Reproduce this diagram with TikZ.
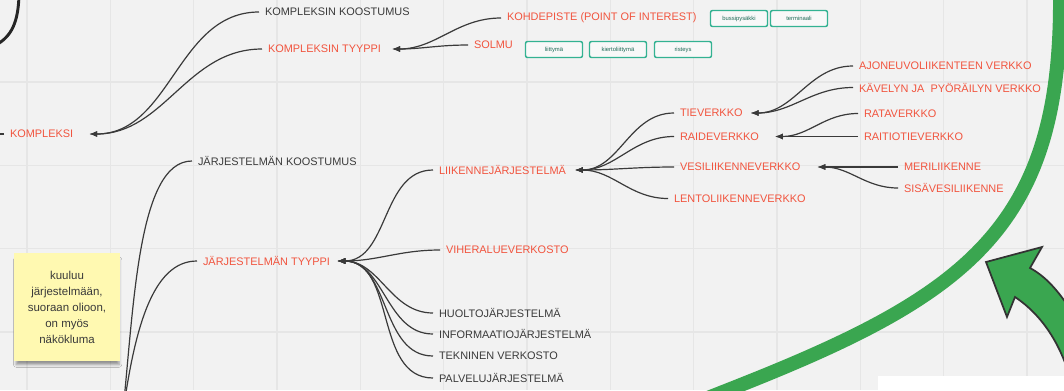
\documentclass[tikz,border=0pt]{standalone}
\usepackage{fontspec}
\setmainfont{Liberation Sans}
\usetikzlibrary{arrows.meta, shadows.blur}

\definecolor{boardGray}{RGB}{242,242,242}
\definecolor{gridGray}{RGB}{230,230,230}
\definecolor{miroRed}{RGB}{241,84,62}
\definecolor{miroDark}{RGB}{58,58,58}
\definecolor{miroTeal}{RGB}{52,178,146}
\definecolor{miroGreen}{RGB}{58,166,80}
\definecolor{stickyYellow}{RGB}{255,249,177}

\begin{document}
\begin{tikzpicture}[> = {Latex[length = 6pt, width = 4.5pt]}, x = 0.75pt, y = -0.75pt,
	label/.style = {anchor = west, inner xsep = 4.5pt, inner ysep = 1pt, outer sep = 0pt,
		font = \fontsize{8.2}{10}\selectfont},
	redlabel/.style = {label, text = miroRed},
	darklabel/.style = {label, text = miroDark},
	link/.style = {->, draw = miroDark, line width = 0.9pt},
	plain/.style = {draw = miroDark, line width = 0.9pt},
	tagbox/.style = {draw = miroTeal, line width = 1.1pt, rounded corners = 1.5pt,
		fill = white!45!boardGray, minimum width = 42.75pt, minimum height = 12pt, inner sep = 0pt,
		font = \fontsize{4.4}{5}\selectfont, text = miroTeal!60!black},
	sticky/.style = {fill = stickyYellow, minimum width = 79.5pt, minimum height = 81pt,
		align = center, text = miroDark,
		font = \fontsize{8.6}{12}\selectfont,
		blur shadow = {shadow xshift = 0.5pt, shadow yshift = -4pt, shadow opacity = 40, shadow scale = 0.97}}]

	% Board and grid
	
	\useasboundingbox (0, 0) rectangle (1064, 390);
	\clip (0, 0) rectangle (1064, 390);
	\fill [boardGray] (0, 0) rectangle (1064, 390);
	
	\foreach \i in {0, 1, ..., 12}
		\draw [gridGray, line width = 0.8pt] ({27 + 83.33 * \i}, 0) -- ({27 + 83.33 * \i}, 390);
	\foreach \j in {0, 1, ..., 3}
		\draw [gridGray, line width = 0.8pt] (0, {82 + 83.33 * \j}) -- (1064, {82 + 83.33 * \j});
	
	% Sketch stroke in the corner
	
	\draw [black!85, line width = 2.2pt, line cap = round] (19, -4) .. controls (18, 22) and (12, 36) .. (-4, 45);
	
	% Kompleksi
	
	\node [redlabel] (kompleksi) at (4, 134) {KOMPLEKSI};
	\node [darklabel] (kkoost) at (259, 12) {KOMPLEKSIN KOOSTUMUS};
	\node [redlabel] (ktyyppi) at (262, 49) {KOMPLEKSIN TYYPPI};
	\node [redlabel] (kohde) at (501, 18) {KOHDEPISTE (POINT OF INTEREST)};
	\node [redlabel] (solmu) at (468, 45) {SOLMU};
	\coordinate (kleft) at (-10, 134);
	
	% Tags
	
	\node [tagbox] (bussi) at (739, 18.5) {bussipysäkki};
	\node [tagbox] (terminaali) at (799, 18.5) {terminaali};
	\node [tagbox] (liittyma) at (554, 49.5) {liittymä};
	\node [tagbox] (kierto) at (618, 49.5) {kiertoliittymä};
	\node [tagbox] (risteys) at (683, 49.5) {risteys};
	
	% Järjestelmä
	
	\node [darklabel] (jkoost) at (192, 161) {JÄRJESTELMÄN KOOSTUMUS};
	\node [redlabel] (jtyyppi) at (197, 261) {JÄRJESTELMÄN TYYPPI};
	\coordinate (jbot) at (122, 420);
	
	\node [redlabel] (liikenne) at (433, 170) {LIIKENNEJÄRJESTELMÄ};
	\node [redlabel] (viher) at (440, 250) {VIHERALUEVERKOSTO};
	\node [darklabel] (huolto) at (433, 313) {HUOLTOJÄRJESTELMÄ};
	\node [darklabel] (info) at (433, 334) {INFORMAATIOJÄRJESTELMÄ};
	\node [darklabel] (tekn) at (433, 356) {TEKNINEN VERKOSTO};
	\node [darklabel] (palvelu) at (433, 378) {PALVELUJÄRJESTELMÄ};
	
	% Liikenneverkot
	
	\node [redlabel] (tie) at (674, 113) {TIEVERKKO};
	\node [redlabel] (raide) at (674, 136.5) {RAIDEVERKKO};
	\node [redlabel] (vesi) at (674, 167) {VESILIIKENNEVERKKO};
	\node [redlabel] (lento) at (668, 198.5) {LENTOLIIKENNEVERKKO};
	
	\node [redlabel] (ajo) at (853, 66) {AJONEUVOLIIKENTEEN VERKKO};
	\node [redlabel] (kavely) at (853, 87.5) {KÄVELYN JA\ \ PYÖRÄILYN VERKKO};
	\node [redlabel] (rata) at (858, 113.5) {RATAVERKKO};
	\node [redlabel] (raitio) at (858, 136.5) {RAITIOTIEVERKKO};
	\node [redlabel] (meri) at (898, 167) {MERILIIKENNE};
	\node [redlabel] (sisa) at (898, 188) {SISÄVESILIIKENNE};
	
	% Sticky note
	
	\node [sticky] (note) at (67, 307) {kuuluu\\järjestelmään,\\suoraan olioon,\\on myös\\näkökluma};
	
	% Connectors
	
	\draw [link] (kkoost.west) to [out = 180, in = 0] ([xshift = 7.5pt] kompleksi.east);
	\draw [link] (ktyyppi.west) to [out = 180, in = 0] ([xshift = 7.5pt] kompleksi.east);
	\draw [plain] (kompleksi.west) -- (kleft);
	\draw [link] (kohde.west) to [out = 180, in = 0] ([xshift = 3.75pt] ktyyppi.east);
	\draw [link] (solmu.west) to [out = 180, in = 0] ([xshift = 3.75pt] ktyyppi.east);
	
	\draw [plain] (jkoost.west) .. controls +(-55, 0) and +(12, -110) .. (jbot);
	\draw [plain] (jtyyppi.west) .. controls +(-45, 0) and +(12, -90) .. (jbot);
	
	\foreach \c in {liikenne, viher, huolto, info, tekn, palvelu}
		\draw [link] (\c.west) to [out = 180, in = 0] ([xshift = 1pt] jtyyppi.east);
	\foreach \c in {tie, raide, vesi, lento}
		\draw [link] (\c.west) to [out = 180, in = 0] ([xshift = 2.25pt] liikenne.east);
	\foreach \c in {ajo, kavely}
		\draw [link] (\c.west) to [out = 180, in = 0] ([xshift = 1.5pt] tie.east);
	\foreach \c in {rata, raitio}
		\draw [link] (\c.west) to [out = 180, in = 0] ([xshift = 7.5pt] raide.east);
	\foreach \c in {meri, sisa}
		\draw [link] (\c.west) to [out = 180, in = 0] ([xshift = 8.25pt] vesi.east);
	
	% Green arc and block arrow
	
	\draw [miroGreen, line width = 10.5pt]
		(1060, -5) .. controls (1062, 230) and (965, 297) .. (728, 390) -- (690, 405);
	
	\filldraw [fill = miroGreen, draw = black!80, line width = 1.3pt, line join = miter]
		(986, 262) -- (1042, 247) -- (1030, 268)
		.. controls (1045, 276) and (1058, 290) .. (1072, 312) -- (1072, 385)
		.. controls (1062, 345) and (1042, 315) .. (1015, 297) -- (1007, 317) -- cycle;
	
	% Pasted panel
	
	\fill [white] (878, 376) rectangle (1070, 395);

\end{tikzpicture}
\end{document}
